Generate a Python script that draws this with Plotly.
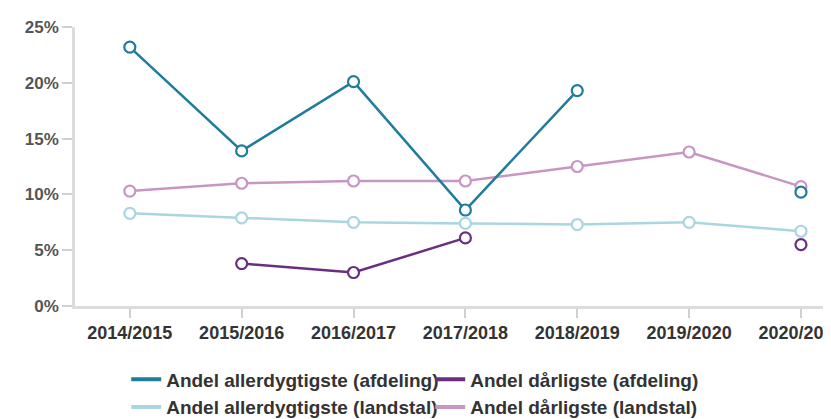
import plotly.graph_objects as go

categories = ["2014/2015", "2015/2016", "2016/2017", "2017/2018", "2018/2019", "2019/2020", "2020/2021"]
allerdygtigste_afdeling = [23.2, 13.9, 20.1, 8.6, 19.3, None, 10.2]
darligste_afdeling = [None, 3.8, 3.0, 6.1, None, None, 5.5]
allerdygtigste_landstal = [8.3, 7.9, 7.5, 7.4, 7.3, 7.5, 6.7]
darligste_landstal = [10.3, 11.0, 11.2, 11.2, 12.5, 13.8, 10.7]
y_ticks = [0, 5, 10, 15, 20, 25]
y_ticklabels = ["0%", "5%", "10%", "15%", "20%", "25%"]

FONT = "Liberation Sans, Arial, sans-serif"

series = [
    ("Andel allerdygtigste (landstal)", allerdygtigste_landstal, "#a9d6e0"),
    ("Andel dårligste (landstal)", darligste_landstal, "#c896c3"),
    ("Andel dårligste (afdeling)", darligste_afdeling, "#6a2e80"),
    ("Andel allerdygtigste (afdeling)", allerdygtigste_afdeling, "#1f7c9c"),
]

fig = go.Figure()
for name, vals, color in series:
    fig.add_trace(go.Scatter(
        x=categories, y=vals, mode="lines+markers", name=name, showlegend=False,
        connectgaps=False,
        line=dict(color=color, width=2.5),
        marker=dict(symbol="circle", size=11, color="white", line=dict(color=color, width=2.2)),
        hoverinfo="skip",
    ))

legend_order = [
    ("Andel allerdygtigste (afdeling)", "#1f7c9c"),
    ("Andel dårligste (afdeling)", "#6a2e80"),
    ("Andel allerdygtigste (landstal)", "#a9d6e0"),
    ("Andel dårligste (landstal)", "#c896c3"),
]
for name, color in legend_order:
    fig.add_trace(go.Scatter(
        x=[None], y=[None], mode="lines", name=name,
        line=dict(color=color, width=4),
    ))

fig.update_layout(
    width=831, height=419,
    margin=dict(l=67, r=0, t=19, b=111),
    plot_bgcolor="white", paper_bgcolor="white",
    font=dict(family=FONT, color="#333333"),
    xaxis=dict(
        type="category", categoryorder="array", categoryarray=categories,
        range=[-0.49, 6.34], automargin=False,
        showgrid=False, showline=True, linecolor="#dcdcdc", linewidth=2.5,
        ticks="outside", ticklen=9, tickcolor="#d0d0d0", tickwidth=1.5,
        tickfont=dict(size=18, color="#333333", family=FONT, weight="bold"),
        zeroline=False,
    ),
    yaxis=dict(
        range=[0, 25], tickvals=y_ticks, ticktext=y_ticklabels, automargin=False,
        showgrid=False, showline=True, linecolor="#dcdcdc", linewidth=2.5,
        ticks="outside", ticklen=10, tickcolor="#d0d0d0", tickwidth=1.5,
        tickfont=dict(size=17, color="#555555", family=FONT, weight="bold"),
        zeroline=False,
    ),
    legend=dict(
        orientation="h", x=0.067, xanchor="left", y=-0.195, yanchor="top",
        entrywidth=259, entrywidthmode="pixels",
        font=dict(size=19, color="#333333", family=FONT, weight="bold"),
        tracegroupgap=0,
        traceorder="normal",
    ),
)

fig.write_html("out.html")
